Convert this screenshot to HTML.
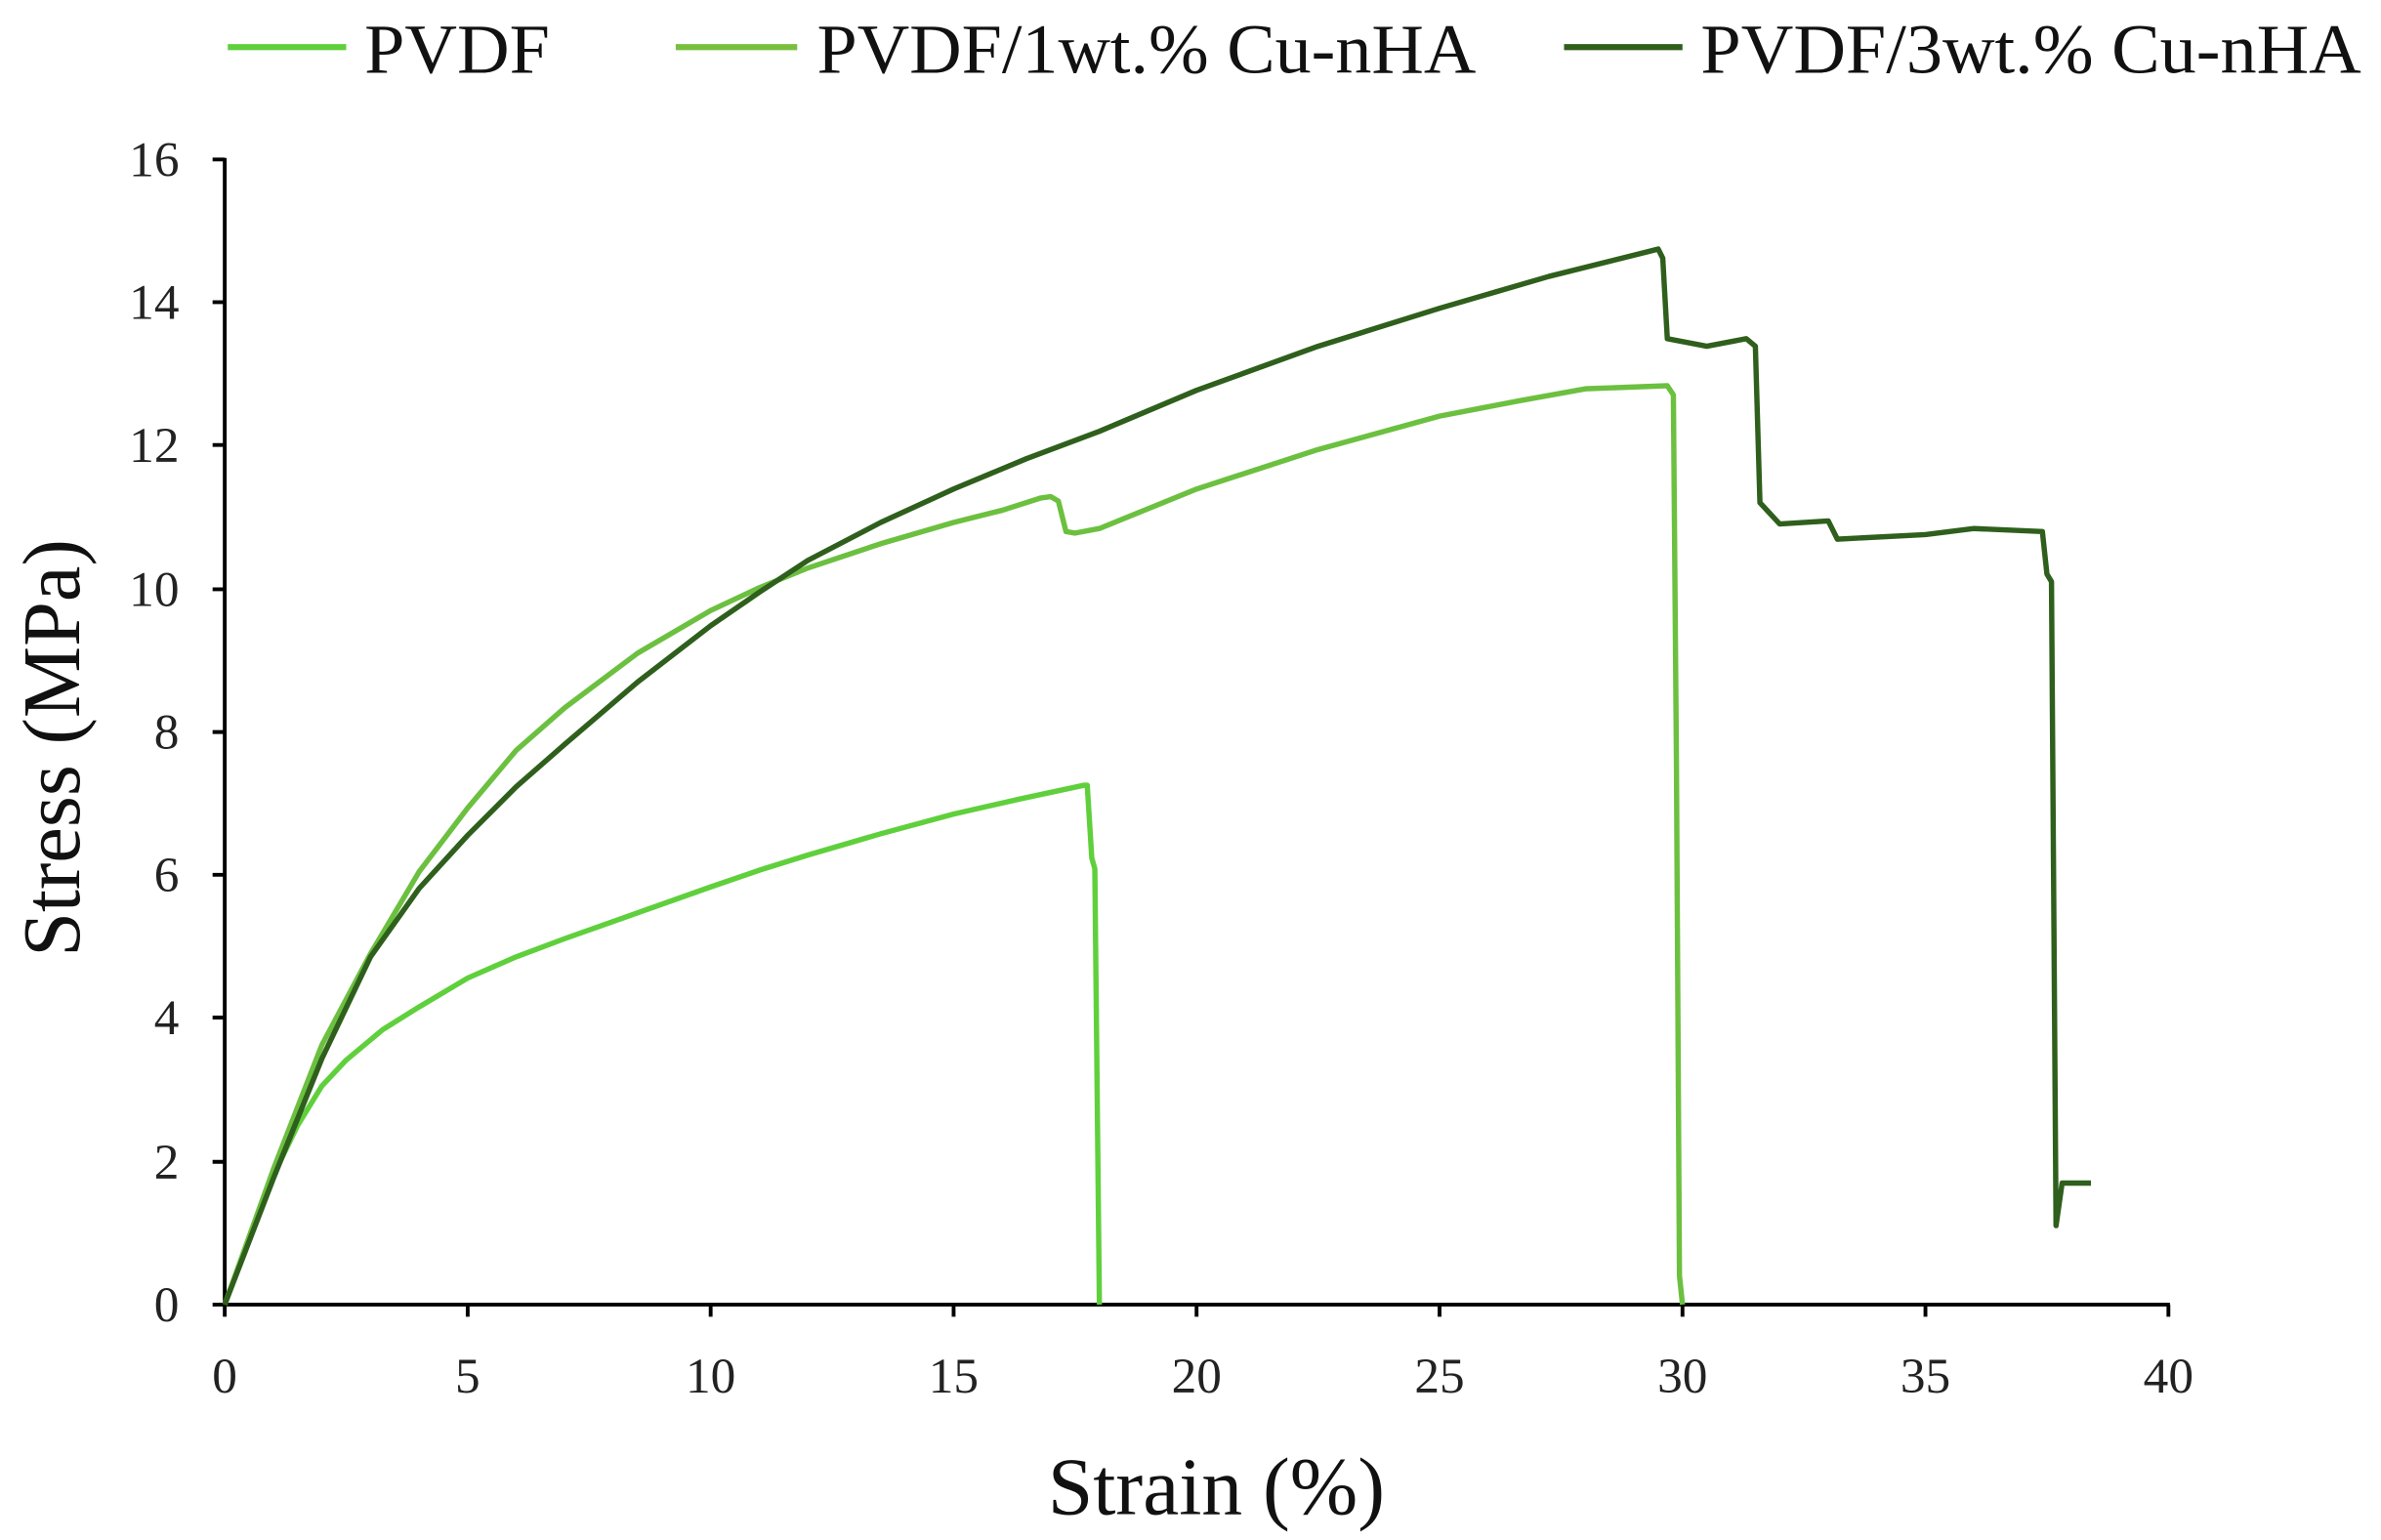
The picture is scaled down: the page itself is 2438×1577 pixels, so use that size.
<!DOCTYPE html>
<html><head><style>html,body{margin:0;padding:0;background:#fff}svg{display:block}</style></head><body>
<svg width="2438" height="1577" viewBox="0 0 1568 1014" preserveAspectRatio="none" xmlns="http://www.w3.org/2000/svg" font-family="Liberation Serif, serif">
<g stroke-width="4" fill="none">
<line x1="150" y1="31" x2="228" y2="31" stroke="#5fd03c"/>
<line x1="445" y1="31" x2="525" y2="31" stroke="#78bf3e"/>
<line x1="1030" y1="31" x2="1108" y2="31" stroke="#2f5f1c"/>
</g>
<g font-size="46" fill="#111" lengthAdjust="spacingAndGlyphs">
<text x="240" y="48" textLength="122" lengthAdjust="spacingAndGlyphs">PVDF</text>
<text x="538" y="48" textLength="434" lengthAdjust="spacingAndGlyphs">PVDF/1wt.% Cu-nHA</text>
<text x="1120" y="48" textLength="435" lengthAdjust="spacingAndGlyphs">PVDF/3wt.% Cu-nHA</text>
</g>
<g stroke="#000" stroke-width="2.5" fill="none">
<line x1="148" y1="104" x2="148" y2="860"/>
<line x1="147" y1="859" x2="1429" y2="859"/>
<path d="M140 105H148M140 199H148M140 293H148M140 388H148M140 482H148M140 576H148M140 670H148M140 765H148M140 859H148"/>
<path d="M148 859V867M308 859V867M468 859V867M628 859V867M788 859V867M948 859V867M1108 859V867M1268 859V867M1428 859V867"/>
</g>
<g font-size="33" fill="#222" text-anchor="end">
<text x="118" y="116">16</text><text x="118" y="210">14</text><text x="118" y="304">12</text><text x="118" y="399">10</text>
<text x="118" y="493">8</text><text x="118" y="587">6</text><text x="118" y="681">4</text><text x="118" y="776">2</text><text x="118" y="870">0</text>
</g>
<g font-size="33" fill="#222" text-anchor="middle">
<text x="148" y="917">0</text><text x="308" y="917">5</text><text x="468" y="917">10</text><text x="628" y="917">15</text><text x="788" y="917">20</text>
<text x="948" y="917">25</text><text x="1108" y="917">30</text><text x="1268" y="917">35</text><text x="1428" y="917">40</text>
</g>
<text x="690" y="997" font-size="54" fill="#111" textLength="222" lengthAdjust="spacingAndGlyphs">Strain (%)</text>
<text transform="translate(52,630) rotate(-90)" font-size="54" fill="#111" textLength="275" lengthAdjust="spacingAndGlyphs">Stress (MPa)</text>
<g fill="none" stroke-width="3.5" stroke-linejoin="round">
<path stroke="#5fd03c" d="M148 859L164 815L180 774L196 741L212 715L228 698L252 678L276 663L308 644L340 630L372 618L420 601L468 584L500 573L532 563L580 549L628 536L672 526L714 517L716 517L719 565L721 572L724 859"/>
<path stroke="#6cc040" d="M148 859L180 770L212 688L244 628L276 574L308 532L340 494L372 466L420 430L468 402L500 387L532 374L580 358L628 344L660 336L685 328L692 327L697 330L702 350L708 351L724 348L756 335L788 322L868 296L948 274L1000 264L1044 256L1098 254L1102 260L1104 500L1106 840L1108 859"/>
<path stroke="#2f5f1c" d="M148 859L180 776L212 697L244 630L276 585L308 550L340 518L372 490L420 449L468 412L500 390L532 369L580 344L628 322L676 302L724 284L788 257L868 228L948 203L1020 182L1092 164L1095 170L1098 223L1124 228L1150 223L1156 228L1159 331L1172 345L1204 343L1210 355L1268 352L1300 348L1345 350L1348 378L1351 383L1354 807L1358 779L1377 779"/>
</g>
</svg>
</body></html>
